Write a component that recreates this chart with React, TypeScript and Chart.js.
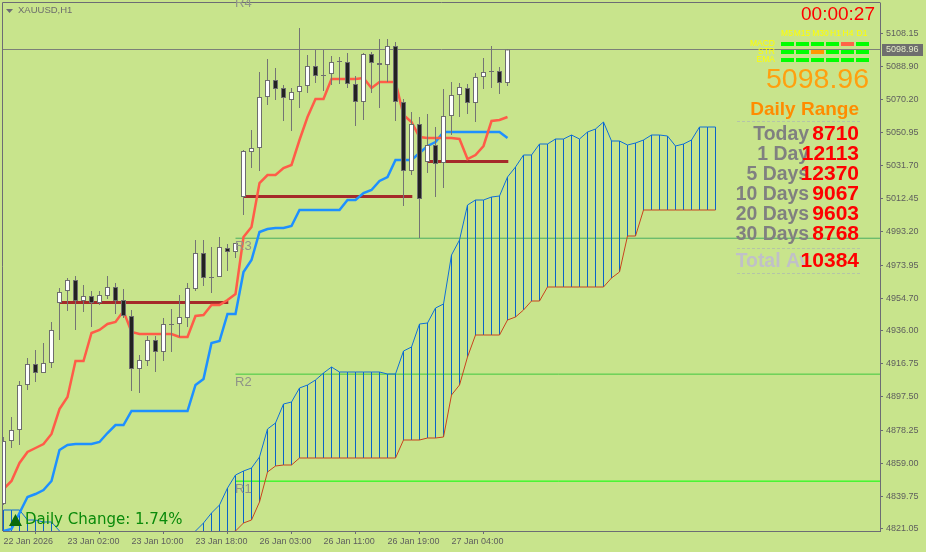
import React, { useEffect, useRef } from "react";
import { Chart, registerables } from "chart.js";

Chart.register(...registerables);

const opens = [4835.35,4871.89,4878.27,4904.37,4916.55,4911.33,4917.13,4951.93,4958.89,4965.27,4953.09,4955.99,4951.93,4955.99,4961.21,4953.67,4944.39,4913.65,4918.29,4930.47,4923.51,4939.17,4939.75,4943.23,4960.05,4980.93,4966.43,4967.01,4983.83,4981.51,5013.41,5039.51,5041.83,5071.41,5081.27,5076.63,5069.67,5074.31,5077.79,5089.39,5083.59,5084.75,5091.71,5091.71,5078.95,5068.51,5096.35,5091.13,5089.97,5100.99,5068.51,5028.49,5055.75,5033.71,5043.57,5033.13,5060.39,5072.57,5076.63,5067.93,5083.01,5085.91,5086.49,5079.53];
const highs = [4874.21,4885.81,4906.69,4920.03,4924.67,4928.73,4940.91,4960.63,4966.43,4967.59,4962.37,4958.89,4958.89,4967.59,4963.53,4960.05,4947.87,4921.77,4932.79,4932.79,4943.23,4948.45,4956.57,4963.53,4988.47,4988.47,4984.41,4990.21,4986.15,4986.73,5040.67,5052.27,5085.91,5093.45,5088.23,5078.37,5076.63,5111.43,5095.77,5098.67,5098.67,5095.19,5094.61,5096.93,5083.59,5096.93,5097.51,5105.05,5105.05,5103.31,5070.25,5062.71,5059.81,5061.55,5054.01,5076.05,5080.11,5079.53,5078.95,5085.33,5094.03,5100.99,5088.81,5099.25];
const lows = [4834.77,4867.83,4869.57,4901.47,4906.11,4911.33,4914.23,4930.47,4947.29,4936.27,4946.71,4938.01,4950.77,4954.25,4945.55,4943.23,4900.89,4899.73,4915.39,4911.91,4918.29,4923.51,4932.21,4938.01,4958.89,4961.79,4957.73,4967.01,4970.49,4978.03,5002.97,5030.23,5028.49,5066.77,5069.67,5057.49,5051.69,5065.03,5073.73,5079.53,5074.89,5078.37,5078.95,5076.63,5054.59,5058.07,5073.73,5065.03,5080.11,5057.49,5008.19,5026.17,4989.63,5027.33,5013.41,5018.63,5049.37,5059.81,5061.55,5056.91,5076.05,5076.63,5073.15,5077.79];
const closes = [4871.89,4878.27,4904.37,4916.55,4911.33,4917.13,4936.27,4958.31,4965.27,4953.09,4955.99,4951.93,4956.57,4961.21,4953.09,4944.39,4913.65,4918.87,4930.47,4923.51,4939.75,4939.75,4943.81,4960.63,4980.93,4966.43,4967.01,4984.41,4981.51,4986.73,5040.09,5041.83,5071.41,5081.27,5076.05,5070.83,5074.31,5077.79,5089.39,5083.59,5084.17,5091.71,5092.29,5078.95,5068.51,5096.35,5091.13,5089.97,5100.99,5068.51,5028.49,5055.75,5012.25,5043.57,5032.55,5060.39,5072.57,5077.21,5067.93,5083.01,5085.91,5086.49,5079.53,5098.96];

const tenkan = [4844.05,4848.69,4859.13,4865.51,4867.83,4870.15,4875.95,4890.45,4897.41,4918.29,4918.29,4934.53,4936.27,4939.75,4940.91,4947.29,4935.11,4933.95,4933.95,4933.95,4933.95,4933.95,4932.21,4932.21,4944.39,4944.97,4950.77,4950.77,4953.67,4957.15,4990.21,4996.01,5021.53,5026.17,5026.17,5030.23,5031.97,5046.47,5059.81,5070.25,5070.25,5081.85,5081.85,5081.85,5081.85,5082.43,5076.63,5080.11,5080.11,5080.11,5060.97,5056.91,5048.21,5047.63,5047.63,5047.63,5047.63,5047.05,5035.45,5037.77,5042.99,5057.49,5058.07,5059.81];
const kijun = [4819.69,4820.85,4830.13,4839.41,4841.15,4843.47,4848.69,4866.67,4869.57,4870.15,4870.15,4870.15,4871.31,4876.53,4881.17,4881.17,4889.29,4889.29,4889.29,4889.29,4889.29,4889.29,4889.29,4889.29,4904.37,4907.85,4928.73,4929.89,4945.55,4945.55,4969.91,4976.87,4993.11,4994.85,4995.43,4995.43,4996.59,5005.87,5005.87,5005.87,5005.87,5005.87,5005.87,5011.67,5011.67,5015.73,5017.47,5022.69,5025.01,5034.87,5034.87,5034.87,5038.93,5042.99,5045.31,5051.11,5051.11,5051.11,5051.11,5051.11,5051.11,5051.11,5051.11,5047.63];

const senkouA: (number | null)[] = [4831.87,4831.87,4831.87,4826.07,4826.07,4824.91,4824.91,4819.69,null,null,null,null,null,null,null,null,null,null,null,null,null,null,null,null,4819.69,4824.33,4830.13,4834.77,4844.63,4852.17,4854.49,4856.23,4862.61,4878.85,4882.33,4893.35,4894.51,4902.63,4904.37,4907.27,4911.33,4914.81,4911.91,4911.91,4911.91,4911.91,4911.91,4911.91,4910.75,4910.75,4924.09,4926.41,4939.75,4940.33,4949.03,4951.35,4979.77,4988.47,5008.77,5011.67,5011.67,5013.41,5013.99,5025.01,5030.81,5037.77,5037.77,5044.15,5044.15,5047.05,5047.05,5049.37,5047.05,5051.11,5052.85,5056.91,5045.89,5045.89,5043.57,5044.73,5046.47,5049.37,5049.37,5048.79,5042.99,5044.15,5046.47,5054.01,5054.01,5054.01];
const senkouB: (number | null)[] = [4818,4818,4818,4818,4818,4818,4818,4818,null,null,null,null,null,null,null,null,null,null,null,null,null,null,null,null,4818,4818,4818,4818,4818,4819.69,4824.33,4826.07,4836.51,4853.91,4857.39,4857.97,4857.97,4862.03,4862.03,4862.03,4862.03,4862.03,4862.03,4862.03,4862.03,4862.03,4862.03,4862.03,4862.03,4862.03,4872.47,4872.47,4872.47,4873.63,4873.63,4874.21,4898.57,4904.37,4920.61,4933.37,4933.37,4933.37,4933.37,4942.07,4943.81,4947.87,4953.09,4953.09,4961.21,4961.21,4961.21,4961.21,4961.21,4961.21,4961.21,4961.21,4966.43,4969.91,4990.79,4990.79,5005.87,5005.87,5005.87,5005.87,5005.87,5005.87,5005.87,5005.87,5005.87,5005.87];

const pivotLevels = [
  { name: "R4", price: 5130.57 },
  { name: "R3", price: 4989.5 },
  { name: "R2", price: 4910.66 },
  { name: "R1", price: 4848.6 },
];
const rangeSegments = [
  { from: 7, to: 28, price: 4952.22 },
  { from: 30, to: 51, price: 5013.7 },
  { from: 53, to: 63, price: 5034.0 },
];
const currentPrice = 5098.96;

const priceTicks = [5108.15,5088.9,5070.2,5050.95,5031.7,5012.45,4993.2,4973.95,4954.7,4936.0,4916.75,4897.5,4878.25,4859.0,4839.75,4821.05];
const timeTickIndex = [0, 8, 16, 24, 32, 40, 48, 56];
const timeTickLabels = ["22 Jan 2026","23 Jan 02:00","23 Jan 10:00","23 Jan 18:00","26 Jan 03:00","26 Jan 11:00","26 Jan 19:00","27 Jan 04:00"];

const timeframes = ["M5","M15","M30","H1","H4","D1"];
const signalNames = ["MACD","STR","EMA"];
const signalStates = [
  ["up","up","up","up","down","up"],
  ["up","up","flat","up","up","up"],
  ["up","up","up","up","up","up"],
];
const rangeLabels = ["Today","1 Day","5 Days","10 Days","20 Days","30 Days"];
const rangeValues = ["8710","12113","12370","9067","9603","8768"];
const totalLabel = "Total Av";
const totalValue = "10384";
const countdown = "00:00:27";
const symbolLabel = "XAUUSD,H1";
const dailyChange = "Daily Change: 1.74%";

const SANS = '"Liberation Sans", Arial, sans-serif';
const AXIS = "#6c6c74";
const levelColors: Record<string, string> = { R4: "#3cb371", R3: "#4aae62", R2: "#3ec83e", R1: "#00ff00" };

const overlay = {
  id: "overlay",
  afterDraw(chart: any) {
    const { ctx, chartArea, scales } = chart;
    const put = (t: string, x: number, y: number, font: string, color: string, align: CanvasTextAlign = "left") => {
      ctx.font = font;
      ctx.fillStyle = color;
      ctx.textAlign = align;
      ctx.textBaseline = "middle";
      ctx.fillText(t, x, y);
    };
    ctx.save();
    ctx.strokeStyle = AXIS;
    ctx.lineWidth = 1;
    ctx.beginPath();
    ctx.moveTo(2.5, 531);
    ctx.lineTo(2.5, 2.5);
    ctx.lineTo(chartArea.right + 0.5, 2.5);
    ctx.stroke();

    // symbol caption
    ctx.fillStyle = AXIS;
    ctx.beginPath();
    ctx.moveTo(6, 9);
    ctx.lineTo(13, 9);
    ctx.lineTo(9.5, 13);
    ctx.closePath();
    ctx.fill();
    put(symbolLabel, 18, 10.5, `9.5px ${SANS}`, "#6c6c6c");

    // pivot names
    pivotLevels.forEach((l) => {
      const y = scales.y.getPixelForValue(l.price);
      put(l.name, scales.x.getPixelForValue(29) - 0.5, y + 8.5, `13px ${SANS}`, "#8f9488");
    });

    // price tag on the axis
    const py = scales.y.getPixelForValue(currentPrice);
    ctx.fillStyle = "#6e6e6e";
    ctx.fillRect(882, Math.round(py) - 6, 41, 12);
    put(currentPrice.toFixed(2), 886, py + 0.5, `9px ${SANS}`, "#e4ecc8");

    // signal panel
    put(countdown, 875, 15, `19px ${SANS}`, "#ff0000", "right");
    const tfX = [787, 802, 820.5, 835.5, 848, 862];
    timeframes.forEach((t, i) => put(t, tfX[i], 33.5, `8.5px ${SANS}`, "#ffff00", "center"));
    const rowY = [42, 50, 58];
    const colX = [781, 796, 811, 826, 841, 856];
    const stateColor: Record<string, string> = { up: "#00ff00", down: "#ff6347", flat: "#ff9800" };
    signalNames.forEach((n, r) => {
      put(n, 775, rowY[r] + 2, `8.5px ${SANS}`, "#ffff00", "right");
      signalStates[r].forEach((s, c) => {
        ctx.fillStyle = stateColor[s];
        ctx.fillRect(colX[c], rowY[r], 13, 4);
      });
    });

    put(currentPrice.toFixed(2), 869, 80, `28.5px ${SANS}`, "#ffa00f", "right");
    put("Daily Range", 859, 110, `bold 19px ${SANS}`, "#ff8c00", "right");

    ctx.strokeStyle = "#b4c4a8";
    ctx.setLineDash([3, 2]);
    [121.5, 248.5, 273.5].forEach((y) => {
      ctx.beginPath();
      ctx.moveTo(737, y);
      ctx.lineTo(860, y);
      ctx.stroke();
    });
    ctx.setLineDash([]);

    const rowsY = [134.5, 154.5, 174.5, 194.5, 214.5, 234.5];
    rangeLabels.forEach((l, i) => put(l, 809, rowsY[i], `bold 19.4px ${SANS}`, "#808080", "right"));
    put(totalLabel, 810, 261.5, `bold 19.4px ${SANS}`, "#c0c0c8", "right");
    rangeValues.forEach((v, i) => put(v, 859, rowsY[i], `bold 21px ${SANS}`, "#ff0000", "right"));
    put(totalValue, 859, 261.5, `bold 21px ${SANS}`, "#ff0000", "right");

    // daily change
    ctx.fillStyle = "#0a6a0a";
    ctx.beginPath();
    ctx.moveTo(9, 526);
    ctx.lineTo(22, 526);
    ctx.lineTo(15.5, 514);
    ctx.closePath();
    ctx.fill();
    put(dailyChange, 25, 520.5, `15px "DejaVu Sans", sans-serif`, "#0a8a0a");
    ctx.restore();
  },
};

export default function App() {
  const ref = useRef<HTMLCanvasElement>(null);
  useEffect(() => {
    document.body.style.margin = "0";
    const idx = opens.map((_, i) => i);
    const line = (label: string, data: any[], color: string, width: number, order: number) => ({
      type: "line" as const,
      label,
      data,
      borderColor: color,
      borderWidth: width,
      pointRadius: 0,
      tension: 0,
      spanGaps: false,
      order,
      borderCapStyle: "butt" as const,
    });
    const bar = (label: string, data: any[], color: string, thickness: number, order: number) => ({
      type: "bar" as const,
      label,
      data,
      backgroundColor: color,
      barThickness: thickness,
      grouped: false,
      inflateAmount: 0,
      borderWidth: 0,
      order,
    });
    const cloudIdx = senkouA.map((_, i) => i);
    const noPad = (s: any) => {
      s.paddingTop = 0;
      s.paddingBottom = 0;
      s.paddingLeft = 0;
      s.paddingRight = 0;
    };
    const chart = new Chart(ref.current as HTMLCanvasElement, {
      type: "bar",
      data: {
        datasets: [
          ...pivotLevels.slice(1).map((l) =>
            line(l.name, [{ x: 29, y: l.price }, { x: 110, y: l.price }], levelColors[l.name], 1, 90)
          ),
          bar("Cloud", cloudIdx.filter((i) => senkouA[i] !== null).map((i) => ({ x: i, y: [senkouB[i], senkouA[i]] })), "#0a64c8", 1, 80),
          line("Current", [{ x: -1, y: currentPrice }, { x: 110, y: currentPrice }], "#7c8078", 1, 75),
          line("Senkou A", cloudIdx.map((i) => ({ x: i, y: senkouA[i] })), "#0f6fd6", 1, 70),
          line("Senkou B", cloudIdx.map((i) => ({ x: i, y: senkouB[i] })), "#c8431e", 1, 70),
          ...rangeSegments.map((s, i) =>
            line(`Range ${i}`, [{ x: s.from, y: s.price }, { x: s.to + 0.1, y: s.price }], "#a52a2a", 3, 60)
          ),
          line("Tenkan", idx.map((i) => ({ x: i, y: tenkan[i] })), "#ff5c48", 2.5, 50),
          line("Kijun", idx.map((i) => ({ x: i, y: kijun[i] })), "#1e90ff", 2.5, 50),
          bar("Wicks", idx.map((i) => ({ x: i, y: [lows[i], highs[i]] })), "#747474", 1, 20),
          {
            ...bar("Bodies", idx.map((i) => ({ x: i, y: [opens[i], closes[i]] })), "#ffffff", 5, 10),
            backgroundColor: idx.map((i) => (closes[i] >= opens[i] ? "#ffffff" : "#222222")),
            borderColor: "#6e6e6e",
            borderWidth: 1,
            borderSkipped: false,
          },
        ] as any,
      },
      options: {
        responsive: false,
        animation: false,
        devicePixelRatio: 1,
        layout: { padding: { top: 3, left: 3, right: 0, bottom: 0 }, autoPadding: false },
        plugins: { legend: { display: false }, tooltip: { enabled: false } },
        scales: {
          x: {
            type: "linear",
            min: -0.0625,
            max: 109.5625,
            position: "bottom",
            offset: false,
            grid: { drawOnChartArea: false, drawTicks: true, tickLength: 3, tickColor: AXIS },
            border: { color: AXIS },
            afterBuildTicks: (s: any) => {
              s.ticks = timeTickIndex.map((value) => ({ value }));
            },
            afterFit: (s: any) => {
              s.height = 21;
              noPad(s);
            },
            ticks: {
              autoSkip: false,
              maxRotation: 0,
              align: "start",
              padding: 2,
              color: "#5e5e5e",
              font: { family: "Liberation Sans", size: 9 },
              callback: (v: any) => timeTickLabels[timeTickIndex.indexOf(v)],
            },
          },
          y: {
            type: "linear",
            position: "right",
            min: 4819.69,
            max: 5125.93,
            grid: { drawOnChartArea: false, drawTicks: true, tickLength: 3, tickColor: AXIS },
            border: { color: AXIS },
            afterBuildTicks: (s: any) => {
              s.ticks = priceTicks.map((value) => ({ value }));
            },
            afterFit: (s: any) => {
              s.width = 46;
              noPad(s);
            },
            ticks: {
              autoSkip: false,
              padding: 3,
              color: "#5e5e5e",
              font: { family: "Liberation Sans", size: 9 },
              callback: (v: any) => Number(v).toFixed(2),
            },
          },
        },
      } as any,
      plugins: [overlay],
    });
    return () => chart.destroy();
  }, []);
  return (
    <canvas
      ref={ref}
      width={926}
      height={552}
      style={{ display: "block", width: 926, height: 552, background: "#c8e48c" }}
    />
  );
}
